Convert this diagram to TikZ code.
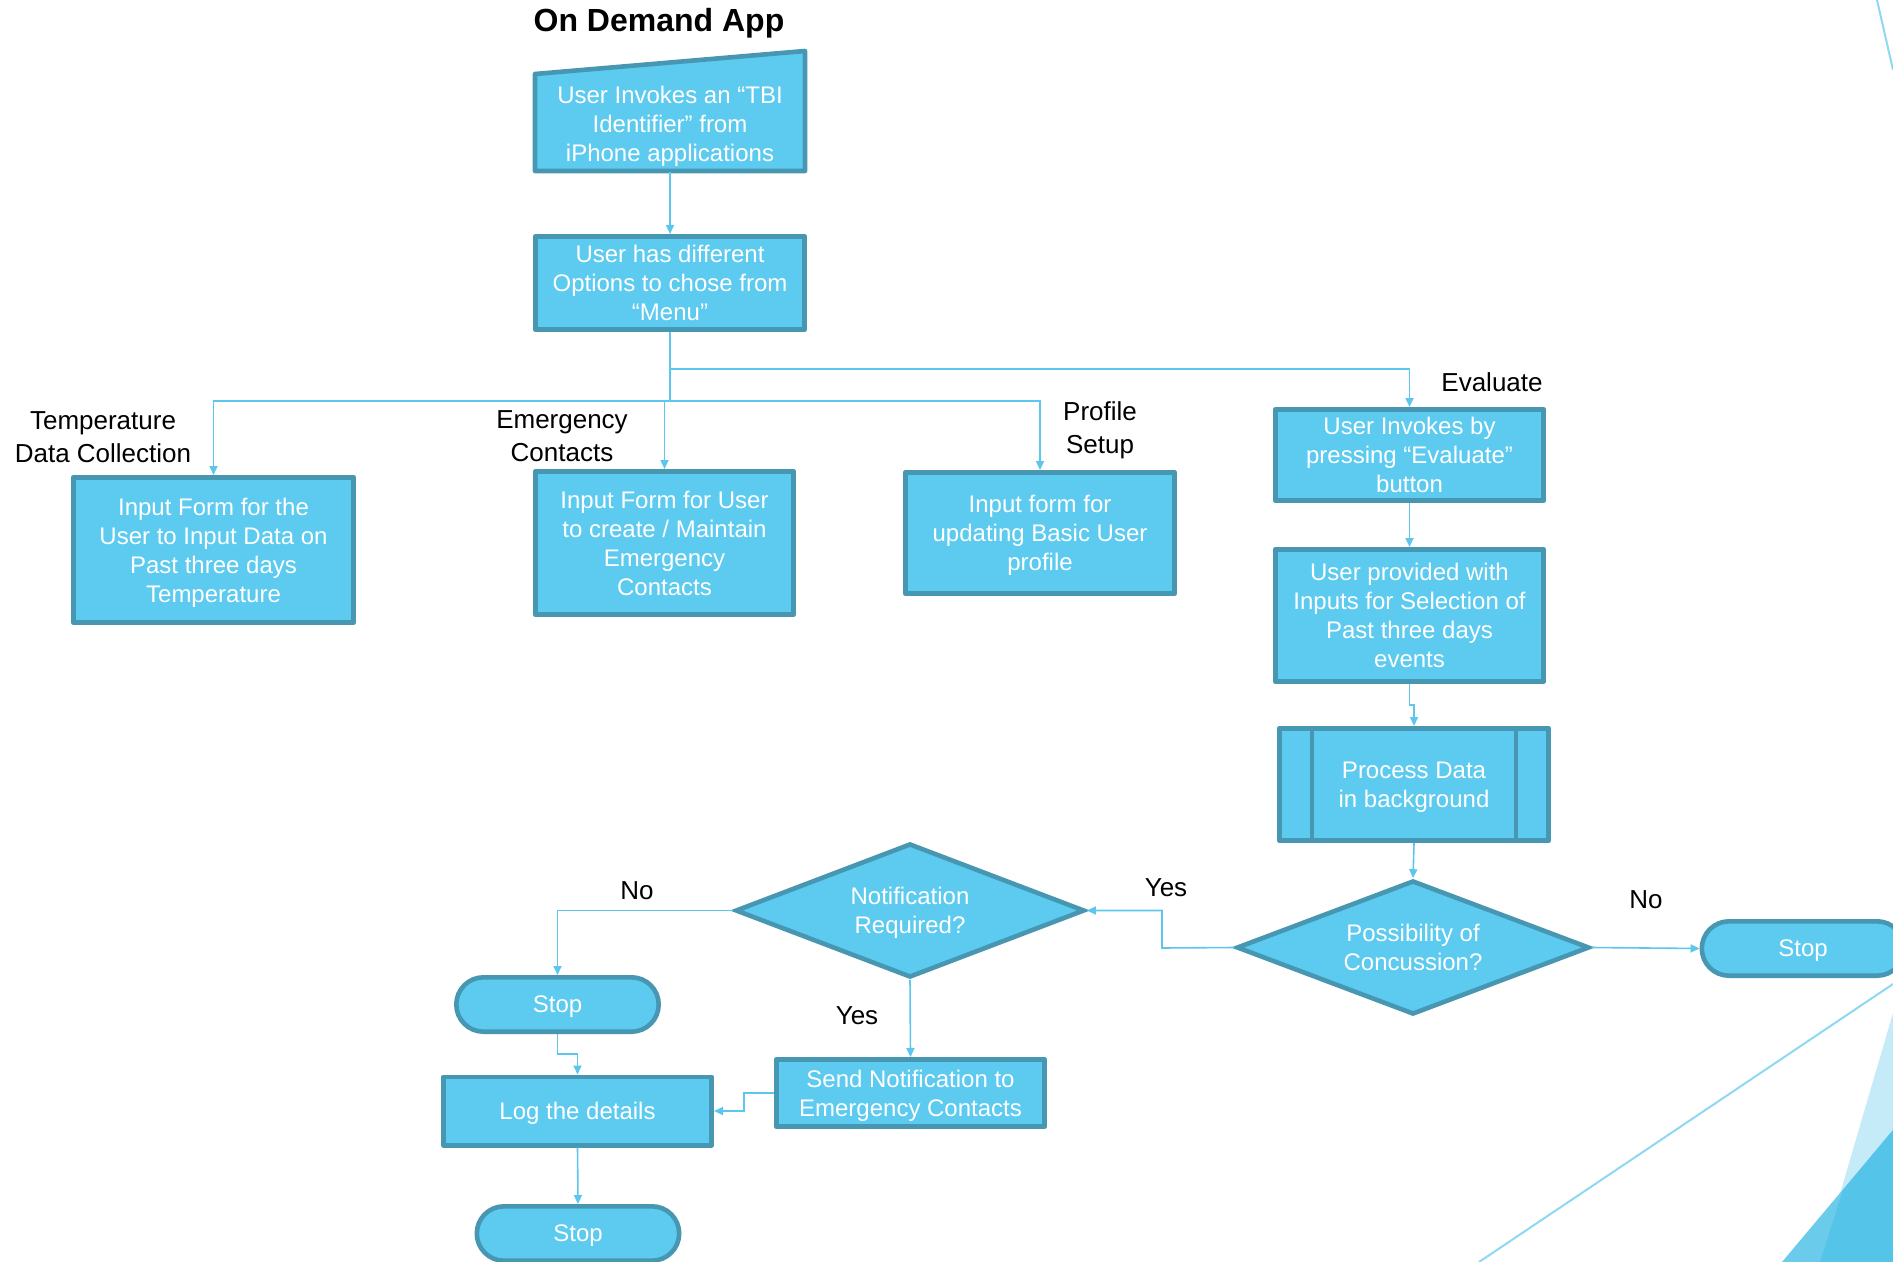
\documentclass[tikz,border=0pt]{standalone}
\usepackage{fontspec}
\setmainfont{Liberation Sans}
\usetikzlibrary{arrows.meta,shapes.geometric,calc}
\definecolor{boxfill}{HTML}{5DCAEF}
\definecolor{boxline}{HTML}{4797B3}
\definecolor{conncol}{HTML}{5CC6EC}
\definecolor{decoline}{HTML}{8ED8F3}
\definecolor{decolight}{HTML}{C5EAF8}
\definecolor{decomid}{HTML}{6ACBEA}
\definecolor{decodark}{HTML}{55C4E9}
\begin{document}
\begin{tikzpicture}[x=0.5pt,y=-0.5pt,
  boxtext/.style={text=white, align=center, font=\fontsize{12}{14.5}\selectfont, inner sep=0pt, text depth=0pt},
  procbox/.style={boxtext, draw=boxline, fill=boxfill, line width=2.3pt, line join=round},
  termbox/.style={procbox, rounded corners=13.6pt, minimum width=101.2pt, minimum height=27.2pt},
  decision/.style={diamond, draw=boxline, fill=boxfill, line width=2.3pt, inner sep=0pt},
  conn/.style={draw=conncol, line width=0.8pt, -{Triangle[length=4.5pt,width=4pt]}},
  lbl/.style={text=black, align=center, font=\fontsize{13}{16.5}\selectfont, inner sep=0pt}]
\useasboundingbox (0,0) rectangle (1893,1262);
\clip (0,0) rectangle (1893,1262);
\fill[white] (0,0) rectangle (1893,1262);

% decorations
\fill[decolight] (1893,1013) -- (1820,1262) -- (1893,1262) -- cycle;
\fill[decomid] (1893,1130) -- (1782,1262) -- (1893,1262) -- cycle;
\fill[decodark] (1893,1130) -- (1843,1190) -- (1820,1262) -- (1893,1262) -- cycle;
\draw[decoline, line width=1pt] (1893,984) -- (1479,1262);
\draw[decoline, line width=1pt] (1877,0) -- (1893,70);

% title
\node[text=black, font=\bfseries\fontsize{16}{19}\selectfont, inner sep=0pt, anchor=base] (title) at (659,32) {On Demand App};

% manual input box
\draw[draw=boxline, fill=boxfill, line width=2.3pt, line join=round] (535,171) -- (535,74) -- (805,51) -- (805,171) -- cycle;
\node[boxtext, minimum width=134.7pt, minimum height=48.5pt] (b1) at (670,123.5) {User Invokes an “TBI\\Identifier” from\\iPhone applications};

\node[procbox, minimum width=134.7pt, minimum height=46.7pt] (b2) at (670,283) {User has different\\Options to chose from\\“Menu”};

\node[procbox, minimum width=140.2pt, minimum height=72.7pt] (temp) at (213.5,550) {Input Form for the\\User to Input Data on\\Past three days\\Temperature};
\node[procbox, minimum width=129.2pt, minimum height=71.7pt] (emerg) at (664.5,543) {Input Form for User\\to create / Maintain\\Emergency\\Contacts};
\node[procbox, minimum width=134.7pt, minimum height=60.7pt] (prof) at (1040,533) {Input form for\\updating Basic User\\profile};
\node[procbox, minimum width=134.2pt, minimum height=45.7pt] (eval) at (1409.5,455) {User Invokes by\\pressing “Evaluate”\\button};
\node[procbox, minimum width=134.2pt, minimum height=66.2pt] (prov) at (1409.5,615.5) {User provided with\\Inputs for Selection of\\Past three days\\events};
\node[procbox, minimum width=134.7pt, minimum height=56.2pt] (proc) at (1414,784.5) {Process Data\\in background};
\draw[boxline, line width=2.3pt] ($(proc.north west)+(35,0)$) -- ($(proc.south west)+(35,0)$);
\draw[boxline, line width=2.3pt] ($(proc.north east)+(-35,0)$) -- ($(proc.south east)+(-35,0)$);

\node[decision, minimum width=176.4pt, minimum height=67pt] (poss) at (1413,947.5) {};
\node[boxtext] (posst) at (poss.center) {Possibility of\\Concussion?};
\node[decision, minimum width=174.6pt, minimum height=67pt] (notif) at (910,910.5) {};
\node[boxtext] (notift) at (notif.center) {Notification\\Required?};

\node[termbox] (stop3) at (1803,948.5) {Stop};
\node[termbox] (stop1) at (557.5,1004.5) {Stop};
\node[termbox] (stop2) at (578,1233.5) {Stop};
\node[procbox, minimum width=134.2pt, minimum height=34.2pt] (log) at (577.5,1111) {Log the details};
\node[procbox, minimum width=134.2pt, minimum height=33.7pt] (send) at (910.5,1093) {Send Notification to\\Emergency Contacts};

% labels
\node[lbl] (ltemp) at (103,437) {Temperature\\Data Collection};
\node[lbl] (lemerg) at (562,436) {Emergency\\Contacts};
\node[lbl] (lprof) at (1100,430) {Profile\\Setup};
\node[lbl, anchor=base] (leval) at (1492,391) {Evaluate};
\node[lbl, anchor=base] (lno1) at (1646,908) {No};
\node[lbl, anchor=base] (lyes1) at (1166,896) {Yes};
\node[lbl, anchor=base] (lno2) at (637,899) {No};
\node[lbl, anchor=base] (lyes2) at (857,1024) {Yes};

% junctions
\coordinate (j1) at (670,369);
\coordinate (j2) at (670,401);
\coordinate (jp) at (1409.5,705);
\coordinate (jy) at (1162,948);
\coordinate (js) at (557.5,1054);
\coordinate (jn) at (744,1093);

% connectors
\draw[conn] (b1.south) -- (b2.north);
\draw[conn] (b2.south) -- (j1) -| (eval.north);
\draw[conn] (j1) -- (j2) -| (prof.north);
\draw[conn] (j2) -| (temp.north);
\draw[conn] (j2) -| (emerg.north);
\draw[conn] (eval.south) -- (prov.north);
\draw[conn] (prov.south) -- (jp) -| (proc.north);
\draw[conn] (proc.south) -- (poss.north);
\draw[conn] (poss.east) -- (stop3.west);
\draw[conn] (poss.west) -- (jy) |- (notif.east);
\draw[conn] (notif.west) -| (stop1.north);
\draw[conn] (notif.south) -- (send.north);
\draw[conn] (stop1.south) -- (js) -| (log.north);
\draw[conn] (send.west) -- (jn) |- (log.east);
\draw[conn] (log.south) -- (stop2.north);
\end{tikzpicture}
\end{document}
